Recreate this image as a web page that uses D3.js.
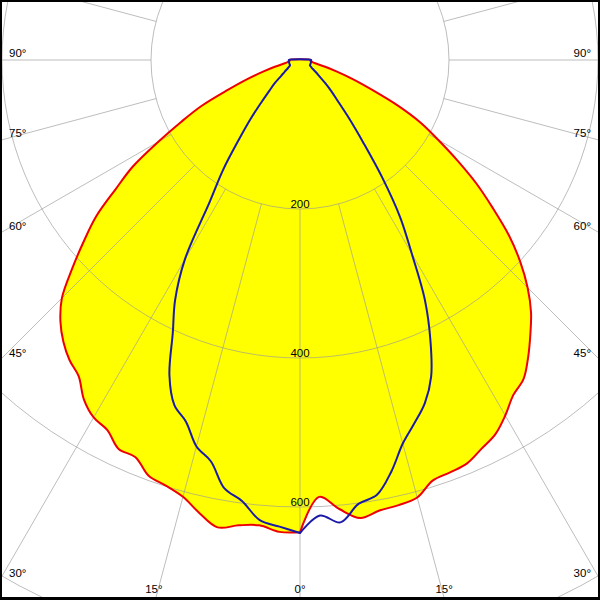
<!DOCTYPE html>
<html>
<head>
<meta charset="utf-8">
<script src="https://cdn.jsdelivr.net/npm/d3@7"></script>
<style>
  html, body { margin: 0; padding: 0; background: #fff; }
  svg { display: block; }
  text { font-family: "Liberation Sans", Arial, sans-serif; font-size: 11.5px; fill: #000; }
</style>
</head>
<body>
<svg id="chart" width="600" height="600"></svg>
<script>
// Gamma angles (degrees from nadir), same for every half-plane
const angles = [0,2.5,5,7.5,10,12.5,15,17.5,20,22.5,25,27.5,30,32.5,35,37.5,40,42.5,45,47.5,50,52.5,55,57.5,60,62.5,65,67.5,70,72.5,75,77.5,80,82.5,85,87.5,90];

// Red curve (C180 left half, C0 right half), cd
const redLeft  = [634,634,627,630,637,623,607,599,594,577,576,560,554,540,518,508,494,476,452,415,379,345,302,266,220,180,146,105,76,52,35,22,17,15,14,14,14];
const redRight = [634,587,605,620,614,612,608,592,589,586,576,567,551,533,523,503,481,459,432,401,366,326,289,250,214,183,145,105,76,52,35,22,17,15,14,14,14];

// Blue curve (C270 left half, C90 right half), cd
const blueLeft  = [635,627,620,597,584,552,537,509,493,458,404,363,309,225,180,135,103,76,58,46,33,26,21,18,16,15,15,15,15,15,15,15,15,15,15,15,15];
const blueRight = [635,612,623,601,593,566,533,511,490,460,414,363,300,250,192,139,103,76,60,46,34,27,21,18,16,15,15,15,15,15,15,15,15,15,15,15,15];

// Grid
const ringValues = [200, 400, 600, 800];
const ringLabels = ["200", "400", "600"];
const spokeAngles = d3.range(0, 360, 15);
const leftLabels = [90, 75, 60, 45, 30];
const bottomLabels = [15, 0, 15];

const W = 600, H = 600;
const cx = 300, cy = 60;
const svg = d3.select("#chart");

const r = d3.scaleLinear().domain([0, 600]).range([0, 447]);
const rad = d => d * Math.PI / 180;

svg.append("rect").attr("width", W).attr("height", H).attr("fill", "#fff");

const g = svg.append("g").attr("transform", `translate(${cx},${cy})`);

function buildPoints(left, right) {
  const pts = [];
  for (let i = angles.length - 1; i >= 0; i--) pts.push({a: Math.PI + rad(angles[i]), v: left[i]});
  for (let i = 0; i < angles.length; i++) pts.push({a: Math.PI - rad(angles[i]), v: right[i]});
  return pts;
}

const line = d3.lineRadial()
  .angle(d => d.a)
  .radius(d => r(d.v))
  .curve(d3.curveCatmullRomClosed.alpha(0.5));

const redPts = buildPoints(redLeft, redRight);
const bluePts = buildPoints(blueLeft, blueRight);

// Fill
g.append("path").attr("d", line(redPts)).attr("fill", "#ffff00").attr("stroke", "none");

// Grid over fill
const grid = g.append("g").attr("stroke", "#999").attr("stroke-opacity", 0.65).attr("fill", "none").attr("stroke-width", 1);
grid.selectAll("circle").data(ringValues).join("circle").attr("r", d => r(d));
grid.selectAll("line").data(spokeAngles).join("line")
  .attr("x1", d => r(200) * Math.sin(rad(d)))
  .attr("y1", d => r(200) * Math.cos(rad(d)))
  .attr("x2", d => 1200 * Math.sin(rad(d)))
  .attr("y2", d => 1200 * Math.cos(rad(d)));

// Ring labels
g.selectAll("text.ring").data(ringLabels).join("text")
  .attr("class", "ring")
  .attr("x", 0)
  .attr("y", d => r(+d) - 1)
  .attr("text-anchor", "middle")
  .text(d => d);

// Curves
g.append("path").attr("d", line(redPts)).attr("fill", "none").attr("stroke", "#ee0000").attr("stroke-width", 2).attr("stroke-linejoin", "round");
g.append("path").attr("d", line(bluePts)).attr("fill", "none").attr("stroke", "#1a1aa8").attr("stroke-width", 2).attr("stroke-linejoin", "round");

// Angle labels at frame exits
leftLabels.forEach(a => {
  const yy = (a === 90 ? cy : cy + cx / Math.tan(rad(a)));
  svg.append("text").attr("x", 9).attr("y", yy - 3).text(a + "°");
  svg.append("text").attr("x", 591).attr("y", yy - 3).attr("text-anchor", "end").text(a + "°");
});
bottomLabels.forEach((a, i) => {
  const sign = i === 0 ? -1 : 1;
  const x = cx + sign * (H - 2 - cy) * Math.tan(rad(a));
  svg.append("text").attr("x", x - (i === 0 ? 2 : 0)).attr("y", 593).attr("text-anchor", "middle").text(a + "°");
});

// Frame
svg.append("rect").attr("x", 0).attr("y", 0).attr("width", W).attr("height", H - 1)
  .attr("fill", "none").attr("stroke", "#000").attr("stroke-width", 4);
</script>
</body>
</html>
